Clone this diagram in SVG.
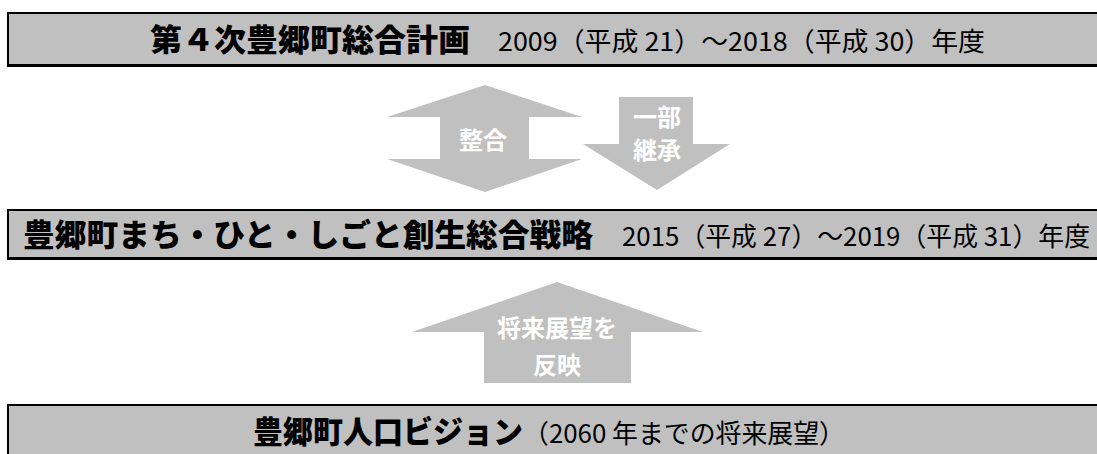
<svg xmlns="http://www.w3.org/2000/svg" width="1097" height="454" viewBox="0 0 1097 454">
<style>
.box{fill:#c0c0c0;stroke:#000;stroke-width:2}
.shadow{fill:#000}
.title{font-family:"Noto Sans CJK JP","Noto Sans",sans-serif;font-weight:900;font-size:31px;fill:#000}
.sub{font-family:"Noto Sans CJK JP","Noto Sans",sans-serif;font-weight:400;font-size:26px;fill:#000}
.arrow{fill:#c0c0c0}
.alabel{font-family:"Noto Sans CJK JP","Noto Sans",sans-serif;font-weight:700;font-size:24px;fill:#fff;text-anchor:middle}
</style>
<rect width="1097" height="454" fill="#fff"/>
<g id="connectors">
  <g id="arrow-seigou">
    <polygon class="arrow" points="485,85 582,117 529,117 529,159 582,159 485,192 387,159 440,159 440,117 387,117"/>
    <text class="alabel" x="483" y="149">整合</text>
  </g>
  <g id="arrow-keishou">
    <polygon class="arrow" points="619,97 693,97 693,144 730,144 657,190 583,144 619,144"/>
    <text class="alabel" x="657" y="126">一部</text>
    <text class="alabel" x="657" y="159">継承</text>
  </g>
  <g id="arrow-hanei">
    <polygon class="arrow" points="557,282 703,332 631,332 631,383 484,383 484,332 412,332"/>
    <text class="alabel" x="557" y="337">将来展望を</text>
    <text class="alabel" x="557" y="374">反映</text>
  </g>
</g>
<g id="node-plan">
  <rect class="shadow" x="7" y="14" width="1100" height="53"/>
  <rect class="box" x="8" y="13" width="1100" height="52"/>
  <text class="title" x="150" y="51" textLength="320" lengthAdjust="spacingAndGlyphs">第４次豊郷町総合計画</text>
  <text class="sub" x="498" y="51" textLength="487" lengthAdjust="spacingAndGlyphs">2009（平成 21）～2018（平成 30）年度</text>
</g>
<g id="node-strategy">
  <rect class="shadow" x="7" y="211" width="1100" height="49"/>
  <rect class="box" x="8" y="210" width="1100" height="48"/>
  <text class="title" x="23" y="246" textLength="570" lengthAdjust="spacingAndGlyphs">豊郷町まち・ひと・しごと創生総合戦略</text>
  <text class="sub" x="622" y="246" textLength="468" lengthAdjust="spacingAndGlyphs">2015（平成 27）～2019（平成 31）年度</text>
</g>
<g id="node-vision">
  <rect class="shadow" x="7" y="406" width="1100" height="60"/>
  <rect class="box" x="8" y="405" width="1100" height="60"/>
  <text class="title" x="253" y="443" textLength="270" lengthAdjust="spacingAndGlyphs">豊郷町人口ビジョン</text>
  <text class="sub" x="523" y="443" textLength="322" lengthAdjust="spacingAndGlyphs">（2060 年までの将来展望）</text>
</g>
</svg>
